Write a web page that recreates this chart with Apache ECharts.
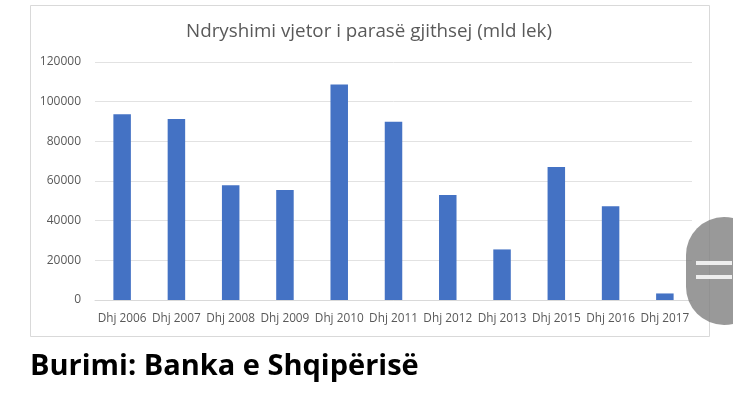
<!DOCTYPE html>
<html><head><meta charset="utf-8">
<style>html,body{margin:0;padding:0;background:#fff}#c{width:733px;height:396px}</style>
<script src="https://cdn.jsdelivr.net/npm/echarts@6/dist/echarts.min.js"></script>
</head><body><div id="c"></div>
<script>
const categories = ["Dhj 2006","Dhj 2007","Dhj 2008","Dhj 2009","Dhj 2010","Dhj 2011","Dhj 2012","Dhj 2013","Dhj 2015","Dhj 2016","Dhj 2017"];
const values = [93700,91300,57900,55500,108700,89900,53000,25500,67000,47300,3300];
const titleText = "Ndryshimi vjetor i parasë gjithsej (mld lek)";
const sourceText = "Burimi: Banka e Shqipërisë";
const chart = echarts.init(document.getElementById('c'), null, {renderer:'canvas'});
chart.setOption({
  animation:false,
  backgroundColor:'#fff',
  title:{text:titleText,left:364,top:17,textAlign:'center',
    textStyle:{fontFamily:'Open Sans',fontSize:18.8,fontWeight:'normal',color:'#595959'}},
  grid:{left:95,right:41,top:62,bottom:96},
  xAxis:{type:'category',data:categories,
    axisLine:{lineStyle:{color:'#d9d9d9',width:1}},axisTick:{show:false},
    axisLabel:{interval:0,margin:13,fontFamily:'Open Sans',fontSize:11.8,color:'#595959'}},
  yAxis:{type:'value',min:0,max:120000,interval:20000,
    axisLine:{show:false},axisTick:{show:false},
    axisLabel:{margin:14,fontFamily:'Open Sans',fontSize:12,color:'#595959',formatter:function(v){return String(v);}},
    splitLine:{lineStyle:{color:'#e2e2e2',width:1}}},
  series:[{type:'bar',data:values,barWidth:17.5,itemStyle:{color:'#4472c4'}}],
  graphic:[
    {type:'rect',z:-1,shape:{x:30.5,y:5.5,width:679,height:331},style:{fill:'none',stroke:'#d9d9d9',lineWidth:1}},
    {type:'text',left:30,top:352,style:{text:sourceText,fontFamily:'Open Sans',fontWeight:'bold',fontSize:29,fill:'#000'}},
    {type:'rect',z:50,shape:{x:686,y:217,width:76,height:108,r:38},style:{fill:'rgba(128,128,128,0.8)'}},
    {type:'rect',z:51,shape:{x:696,y:261,width:36,height:4},style:{fill:'#eeeeee'}},
    {type:'rect',z:51,shape:{x:696,y:275,width:36,height:4},style:{fill:'#eeeeee'}}
  ]
});
</script></body></html>
